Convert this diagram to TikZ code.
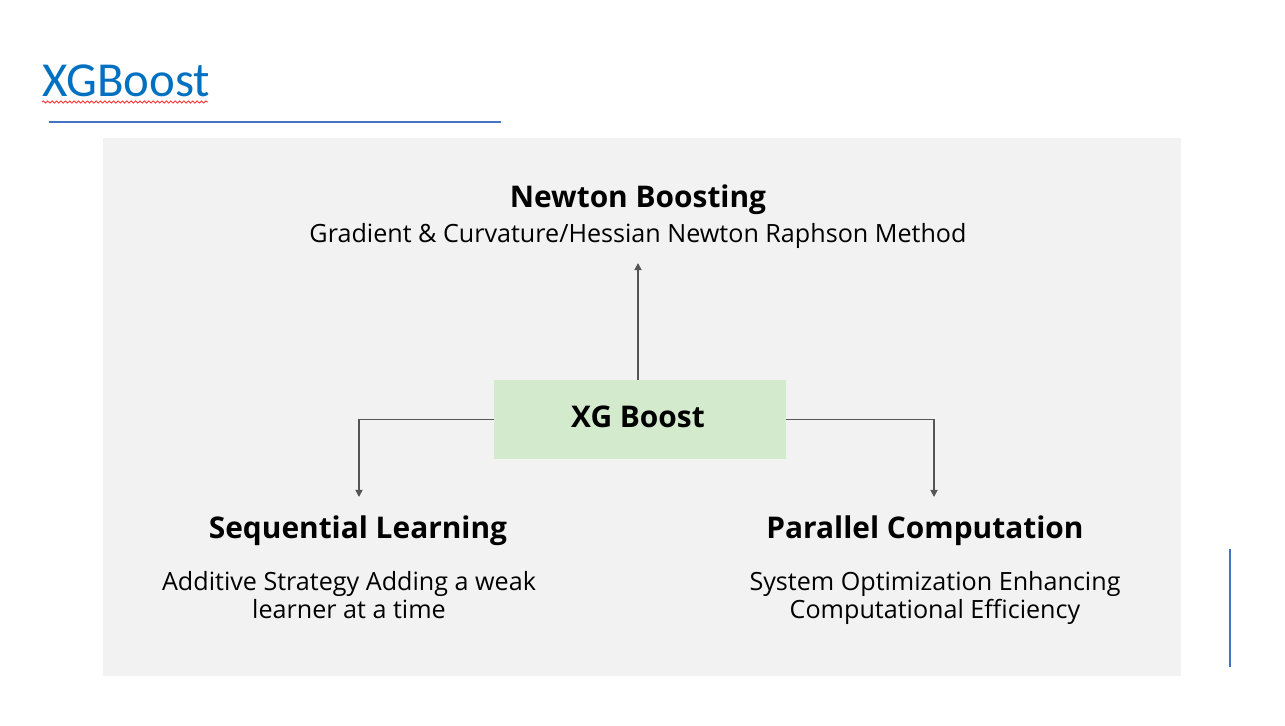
\documentclass[tikz,border=0pt]{standalone}
\usepackage{fontspec}
\setmainfont{Open Sans}
\newfontfamily\titlefont{Carlito}
\usetikzlibrary{arrows.meta,positioning,decorations.pathmorphing}

\definecolor{titleblue}{HTML}{0070C0}
\definecolor{ruleblue}{HTML}{4472C4}
\definecolor{panelgrey}{HTML}{F2F2F2}
\definecolor{boxgreen}{HTML}{D3EACC}
\definecolor{linkgrey}{HTML}{555555}

\tikzset{
  heading/.style={font=\fontsize{17}{20}\selectfont\bfseries, text=black, inner sep=0pt, anchor=base},
  detail/.style={font=\fontsize{14.3}{15.9}\selectfont, text=black, inner sep=0pt, align=center, anchor=base},
  link/.style={linkgrey, line width=0.8pt, -{Triangle[length=4pt,width=4pt]}}
}

\begin{document}
\begin{tikzpicture}[x=0.02cm, y=-0.02cm]
    \useasboundingbox (0,0) rectangle (1285,726);
    \fill[white] (0,0) rectangle (1285,726);

    % Title and rules
    \node[font=\fontsize{27.8}{32}\selectfont\titlefont, text=titleblue, anchor=base west, inner sep=0pt] (title) at (42,97) {XGBoost};
    \draw[red!80, line width=0.5pt, decorate, decoration={snake, amplitude=0.6pt, segment length=2.5pt}] (42,102) -- (208,102);
    \draw[ruleblue, line width=1.2pt] (49,122) -- (501,122);
    \draw[ruleblue, line width=1.4pt] (1230,549) -- (1230,667);

    % The panel
    \fill[panelgrey] (103,138) rectangle (1181,676);

    % Central box
    \node[fill=boxgreen, minimum width=292*0.02cm, minimum height=79*0.02cm, inner sep=0pt] (xgb) at (640,419.5) {};
    \node[heading] (xgblabel) at (638,427) {XG Boost};

    % Top: Newton boosting
    \node[heading] (newton) at (638,208) {Newton Boosting};
    \node[detail] (newtondesc) at (638,243) {Gradient \& Curvature/Hessian Newton Raphson Method};
    \coordinate (newtontip) at (638,263);

    % Bottom left: sequential learning (base = last line)
    \node[heading] (seq) at (358,538) {Sequential Learning};
    \node[detail] (seqdesc) at (349,618) {Additive Strategy Adding a weak\\learner at a time};
    \coordinate (seqtip) at (359,497);

    % Bottom right: parallel computation
    \node[heading] (par) at (925,538) {Parallel Computation};
    \node[detail] (pardesc) at (935,618) {System Optimization Enhancing\\Computational Efficiency};
    \coordinate (partip) at (934,497);

    % Connectors
    \draw[link] (xgb.north -| newtontip) -- (newtontip);
    \draw[link] (xgb.west) -| (seqtip);
    \draw[link] (xgb.east) -| (partip);
\end{tikzpicture}
\end{document}
